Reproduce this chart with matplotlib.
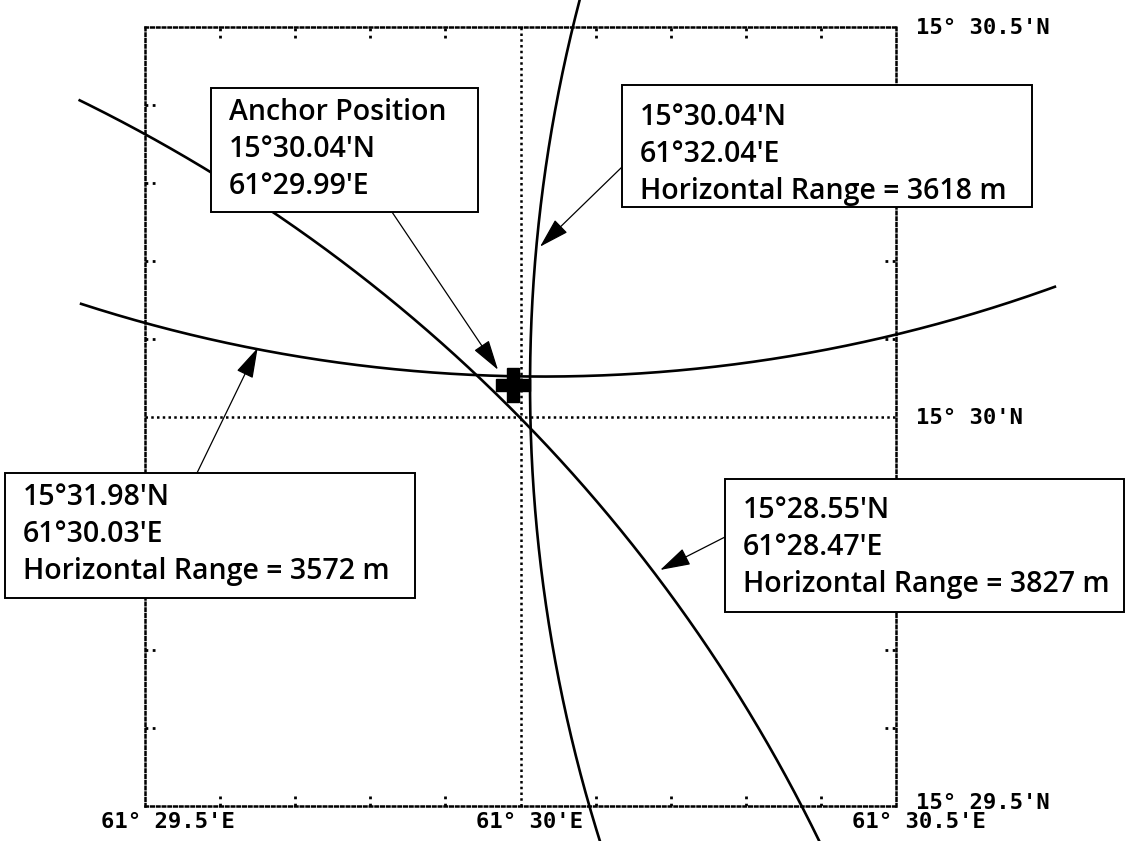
import numpy as np
import matplotlib
matplotlib.use("Agg")
import matplotlib.pyplot as plt
from matplotlib.patches import Rectangle

W, H = 1126, 841

# positions are in arc-minutes past 61°E (lon) and 15°N (lat)
lon_lim = [29.5, 30.5]
lat_lim = [29.5, 30.5]
minor_ticks = [29.6, 29.7, 29.8, 29.9, 30.1, 30.2, 30.3, 30.4]
grid_lon = 30.0
grid_lat = 30.0

x_labels = ["61° 29.5'E", "61° 30'E", "61° 30.5'E"]
x_label_pos = [29.5, 30.0, 30.5]
y_labels = ["15° 30.5'N", "15° 30'N", "15° 29.5'N"]
y_label_pos = [30.5, 30.0, 29.5]

# transponders: lat, lon, horizontal range (m)
tp_lat = [30.04, 31.98, 28.55]
tp_lon = [32.04, 30.03, 28.47]
tp_range = [3618, 3572, 3827]

anchor_lat = 30.04
anchor_lon = 29.99

box_lines = [
    ["Anchor Position", "15°30.04'N", "61°29.99'E"],
    ["15°30.04'N", "61°32.04'E", "Horizontal Range = 3618 m"],
    ["15°31.98'N", "61°30.03'E", "Horizontal Range = 3572 m"],
    ["15°28.55'N", "61°28.47'E", "Horizontal Range = 3827 m"],
]
# arrow targets (lon, lat)
arrow_tip_lon = [29.970, 30.026, 29.650, 30.186]
arrow_tip_lat = [30.060, 30.218, 30.088, 29.803]

# layout, in screen pixels from the top-left corner
box_px = [(211, 88, 478, 212), (622, 85, 1032, 207),
          (5, 473, 415, 598), (725, 479, 1124, 612)]
first_base = [120, 125, 505, 518]
arrow_from = [(392, 212), (622, 167), (197, 473), (725, 537)]
LINE_STEP = 37
ARC_LON_RANGE = (29.413, 30.712)

M_PER_MIN = 1852.0
coslat = np.cos(np.radians(15 + 30 / 60))

fig = plt.figure(figsize=(W / 100, H / 100), dpi=100)
fig.patch.set_facecolor("white")
ax = fig.add_axes([145 / W, 1 - 806 / H, 751 / W, 779 / H])
ax.set_xlim(lon_lim)
ax.set_ylim(lat_lim)
ax.set_xticks([])
ax.set_yticks([])
dots = (0, (1, 1.3))
for sp in ax.spines.values():
    sp.set_linestyle(dots)
    sp.set_linewidth(1.8)

ax.axvline(grid_lon, color="k", ls=dots, lw=1.8)
ax.axhline(grid_lat, color="k", ls=dots, lw=1.8)

tl_y, tl_x = 11 / 779, 11 / 751
tick_kw = dict(color="k", ls=(0, (1, 1.6)), lw=2.0)
for t in minor_ticks:
    ax.plot([t, t], [0, tl_y], transform=ax.get_xaxis_transform(), **tick_kw)
    ax.plot([t, t], [1 - tl_y, 1], transform=ax.get_xaxis_transform(), **tick_kw)
    ax.plot([0, tl_x], [t, t], transform=ax.get_yaxis_transform(), **tick_kw)
    ax.plot([1 - tl_x, 1], [t, t], transform=ax.get_yaxis_transform(), **tick_kw)

# range circles
theta = np.linspace(0, 2 * np.pi, 6000)
for la, lo, r in zip(tp_lat, tp_lon, tp_range):
    xs = lo + r / (M_PER_MIN * coslat) * np.cos(theta)
    ys = la + r / M_PER_MIN * np.sin(theta)
    keep = (xs >= ARC_LON_RANGE[0]) & (xs <= ARC_LON_RANGE[1])
    xs = np.where(keep, xs, np.nan)
    ax.plot(xs, ys, color="k", lw=1.9, clip_on=False, zorder=3)

ax.plot(anchor_lon, anchor_lat, marker="P", ms=24, color="k", mec="k", clip_on=False, zorder=4)


def fpx(x, y):
    return x / W, 1 - y / H


mono = "DejaVu Sans Mono"
for lab, pos in zip(x_labels, x_label_pos):
    x0 = ax.transData.transform((pos, lat_lim[0]))[0]
    fig.text((x0 - 44) / W, 1 - 828 / H, lab, family=mono, fontsize=16,
             fontweight="bold", ha="left", va="baseline")
for lab, pos in zip(y_labels, y_label_pos):
    y0 = ax.transData.transform((lon_lim[1], pos))[1]
    off = 3 if pos == lat_lim[0] else 7
    fig.text(916 / W, (y0 - off) / H, lab, family=mono, fontsize=16,
             fontweight="bold", ha="left", va="baseline")

for i, lines in enumerate(box_lines):
    x0, y0, x1, y1 = box_px[i]
    ax.annotate("", xy=(arrow_tip_lon[i], arrow_tip_lat[i]), xycoords="data",
                xytext=(arrow_from[i][0], H - arrow_from[i][1]), textcoords="figure pixels",
                arrowprops=dict(arrowstyle="-|>,head_length=0.95,head_width=0.28",
                                color="k", lw=0.9, shrinkA=0, shrinkB=0,
                                mutation_scale=20),
                annotation_clip=False, zorder=5)
    ax.add_patch(Rectangle(fpx(x0, y1), (x1 - x0) / W, (y1 - y0) / H,
                           transform=fig.transFigure, facecolor="white",
                           edgecolor="k", lw=1.4, clip_on=False, zorder=6))
    for j, s in enumerate(lines):
        tx, ty = fpx(x0 + 18, first_base[i] + LINE_STEP * j)
        ax.text(tx, ty, s, transform=fig.transFigure, family="Open Sans",
                fontsize=20.5, fontweight="semibold", ha="left", va="baseline",
                zorder=7, clip_on=False)

fig.savefig("out.png", dpi=100, facecolor="white")
